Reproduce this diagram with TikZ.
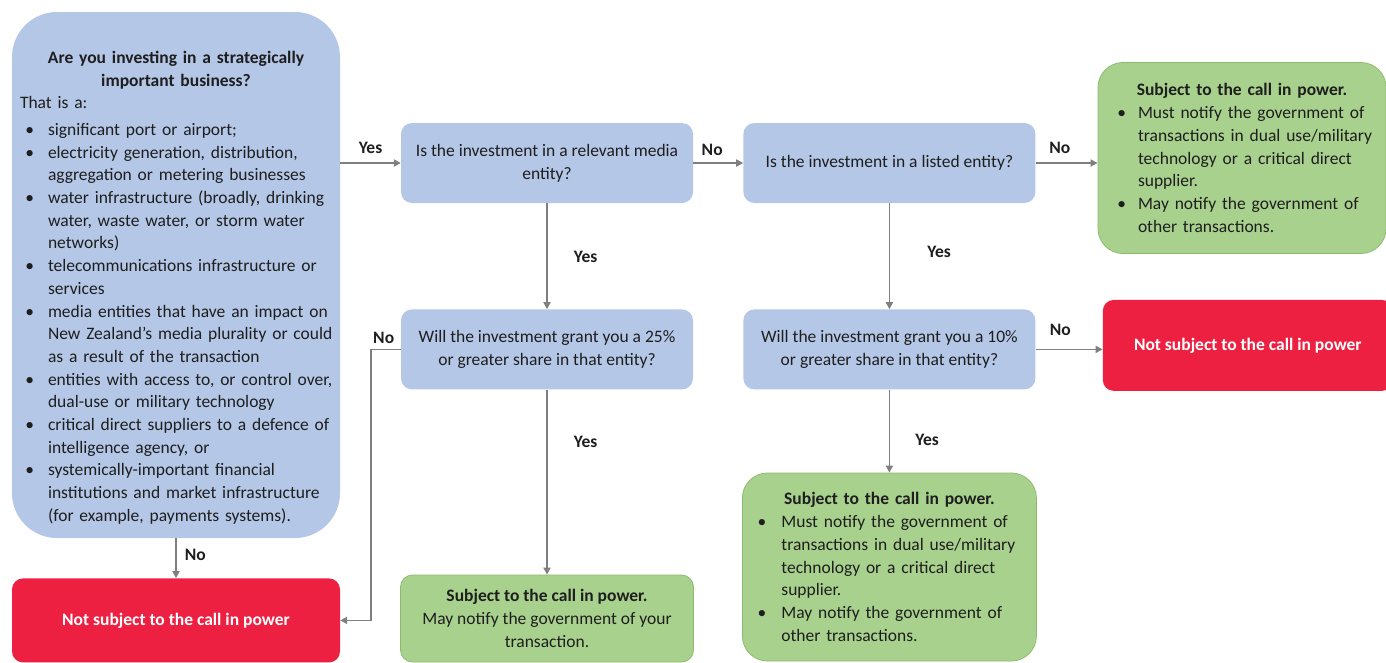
\documentclass[tikz,border=0pt]{standalone}
\usepackage{fontspec}
\setmainfont{Carlito}
\usepackage{enumitem}
\usetikzlibrary{positioning,arrows.meta}

\definecolor{qblue}{HTML}{B4C7E7}
\definecolor{okgreen}{HTML}{A9D18E}
\definecolor{okedge}{HTML}{8DBB6E}
\definecolor{nored}{HTML}{EE2042}
\definecolor{ink}{HTML}{1E1E1E}
\definecolor{arrowgray}{HTML}{7F7F7F}

\begin{document}
\begin{tikzpicture}[
  x=1pt, y=-1pt,
  node distance = 50pt,
  every node/.style={font=\fontsize{17.5}{22.7}\selectfont, text=ink},
  qnode/.style={rectangle, rounded corners=11pt, fill=qblue, minimum width=292pt, minimum height=80pt, align=center, inner sep=0pt},
  bignode/.style={rectangle, rounded corners=45pt, fill=qblue, minimum width=328pt, minimum height=526pt},
  oknode/.style={rectangle, rounded corners=25pt, fill=okgreen, draw=okedge, line width=0.8pt},
  nonode/.style={rectangle, rounded corners=11pt, fill=nored, text=white, font=\fontsize{17.5}{22.7}\selectfont\bfseries},
  txt/.style={inner sep=0pt, text width=320pt, align=left},
  lbl/.style={font=\fontsize{17.5}{22.7}\selectfont\bfseries, inner sep=1pt, text height=12pt, text depth=4pt},
  arw/.style={-{Triangle[length=7pt, width=7pt]}, line width=1.8pt, draw=arrowgray}
  ]

\useasboundingbox (0,0) rectangle (1386,662);

% first question

\node [bignode] (strat) at (176,275) {};
\node [txt, below=39pt of strat.north, xshift=4pt] (stratlist) {%
  {\centering\rightskip=8pt plus 1fil\relax\bfseries Are you investing in a strategically\\ important business?\par}
  That is a:\par
  \begin{itemize}[label=\textbullet, leftmargin=28pt, labelsep=14pt, topsep=4pt, itemsep=0pt, parsep=0pt, partopsep=0pt]
    \item significant port or airport;
    \item electricity generation, distribution,\newline aggregation or metering businesses
    \item water infrastructure (broadly, drinking\newline water, waste water,  or storm water\newline networks)
    \item telecommunications infrastructure or\newline services
    \item media entities that have an impact on\newline New Zealand’s media plurality or could\newline as a result of the transaction
    \item entities with access to, or control over,\newline dual-use or military technology
    \item critical direct suppliers to a defence of\newline intelligence agency, or
    \item systemically-important financial\newline institutions and market infrastructure\newline (for example, payments systems).
  \end{itemize}};
\node [nonode, below=40pt of strat, minimum width=328pt, minimum height=84pt] (nocall1) {Not subject to the call in power};

% questions

\node [qnode] (q1) at (547,163) {Is the investment in a relevant media\\entity?};
\node [qnode, right=of q1] (q2) {Is the investment in a listed entity?};
\node [qnode, below=106pt of q1] (q3) {Will the investment grant you a 25\%\\or greater share in that entity?};
\node [qnode, below=106pt of q2] (q4) {Will the investment grant you a 10\%\\or greater share in that entity?};

% outcomes

\node [oknode, right=62pt of q2, yshift=5pt, minimum width=288pt, minimum height=191pt, text width=262pt, inner xsep=13pt, align=left] (okall) {%
  {\centering\bfseries Subject to the call in power.\par}
  \begin{itemize}[label=\textbullet, leftmargin=27pt, labelsep=12pt, nosep]
    \item Must notify the government of\newline transactions in dual use/military\newline technology or a critical direct\newline supplier.
    \item May notify the government of\newline other transactions.
  \end{itemize}};
\node [nonode, right=67pt of q4, yshift=4pt, minimum width=290pt, minimum height=91pt] (nocall2) {Not subject to the call in power};
\node [oknode, below=83pt of q4, minimum width=294pt, minimum height=188pt, text width=268pt, inner xsep=13pt, align=left] (okmil) {%
  {\centering\bfseries Subject to the call in power.\par}
  \begin{itemize}[label=\textbullet, leftmargin=26pt, labelsep=15pt, nosep]
    \item Must notify the government of\newline transactions in dual use/military\newline technology or a critical direct\newline supplier.
    \item May notify the government of\newline other transactions.
  \end{itemize}};
\node [oknode, rounded corners=12pt, below=185pt of q3, minimum width=293pt, minimum height=87pt, align=center] (okmedia) {\textbf{Subject to the call in power.}\\May notify the government of your\\transaction.};

% connections

\draw [arw] (q1.west -| strat.east) -- node [lbl, above=4pt] {Yes} (q1.west);
\draw [arw] (strat) -- node [lbl, right=7pt, pos=0.45] {No} (nocall1);
\draw [arw] (q1) -- node [lbl, above=2pt, pos=0.38] {No} (q2);
\draw [arw] (q1) -- node [lbl, right=25pt, pos=0.52] {Yes} (q3);
\draw [arw] (q2.east) -- node [lbl, above=4pt, pos=0.39] {No} (q2.east -| okall.west);
\draw [arw] (q2) -- node [lbl, right=36pt, pos=0.47] {Yes} (q4);
\draw [arw] (q3) -- node [lbl, right=25pt, pos=0.29] {Yes} (okmedia);
\draw [arw] (q3.west) -- node [lbl, above=0pt, pos=0.57] {No} ++(-30,0) |- (nocall1.east);
\draw [arw] (q4.east) -- node [lbl, above=8pt, pos=0.37] {No} (q4.east -| nocall2.west);
\draw [arw] (q4) -- node [lbl, right=24pt, pos=0.63] {Yes} (okmil);

\end{tikzpicture}
\end{document}
